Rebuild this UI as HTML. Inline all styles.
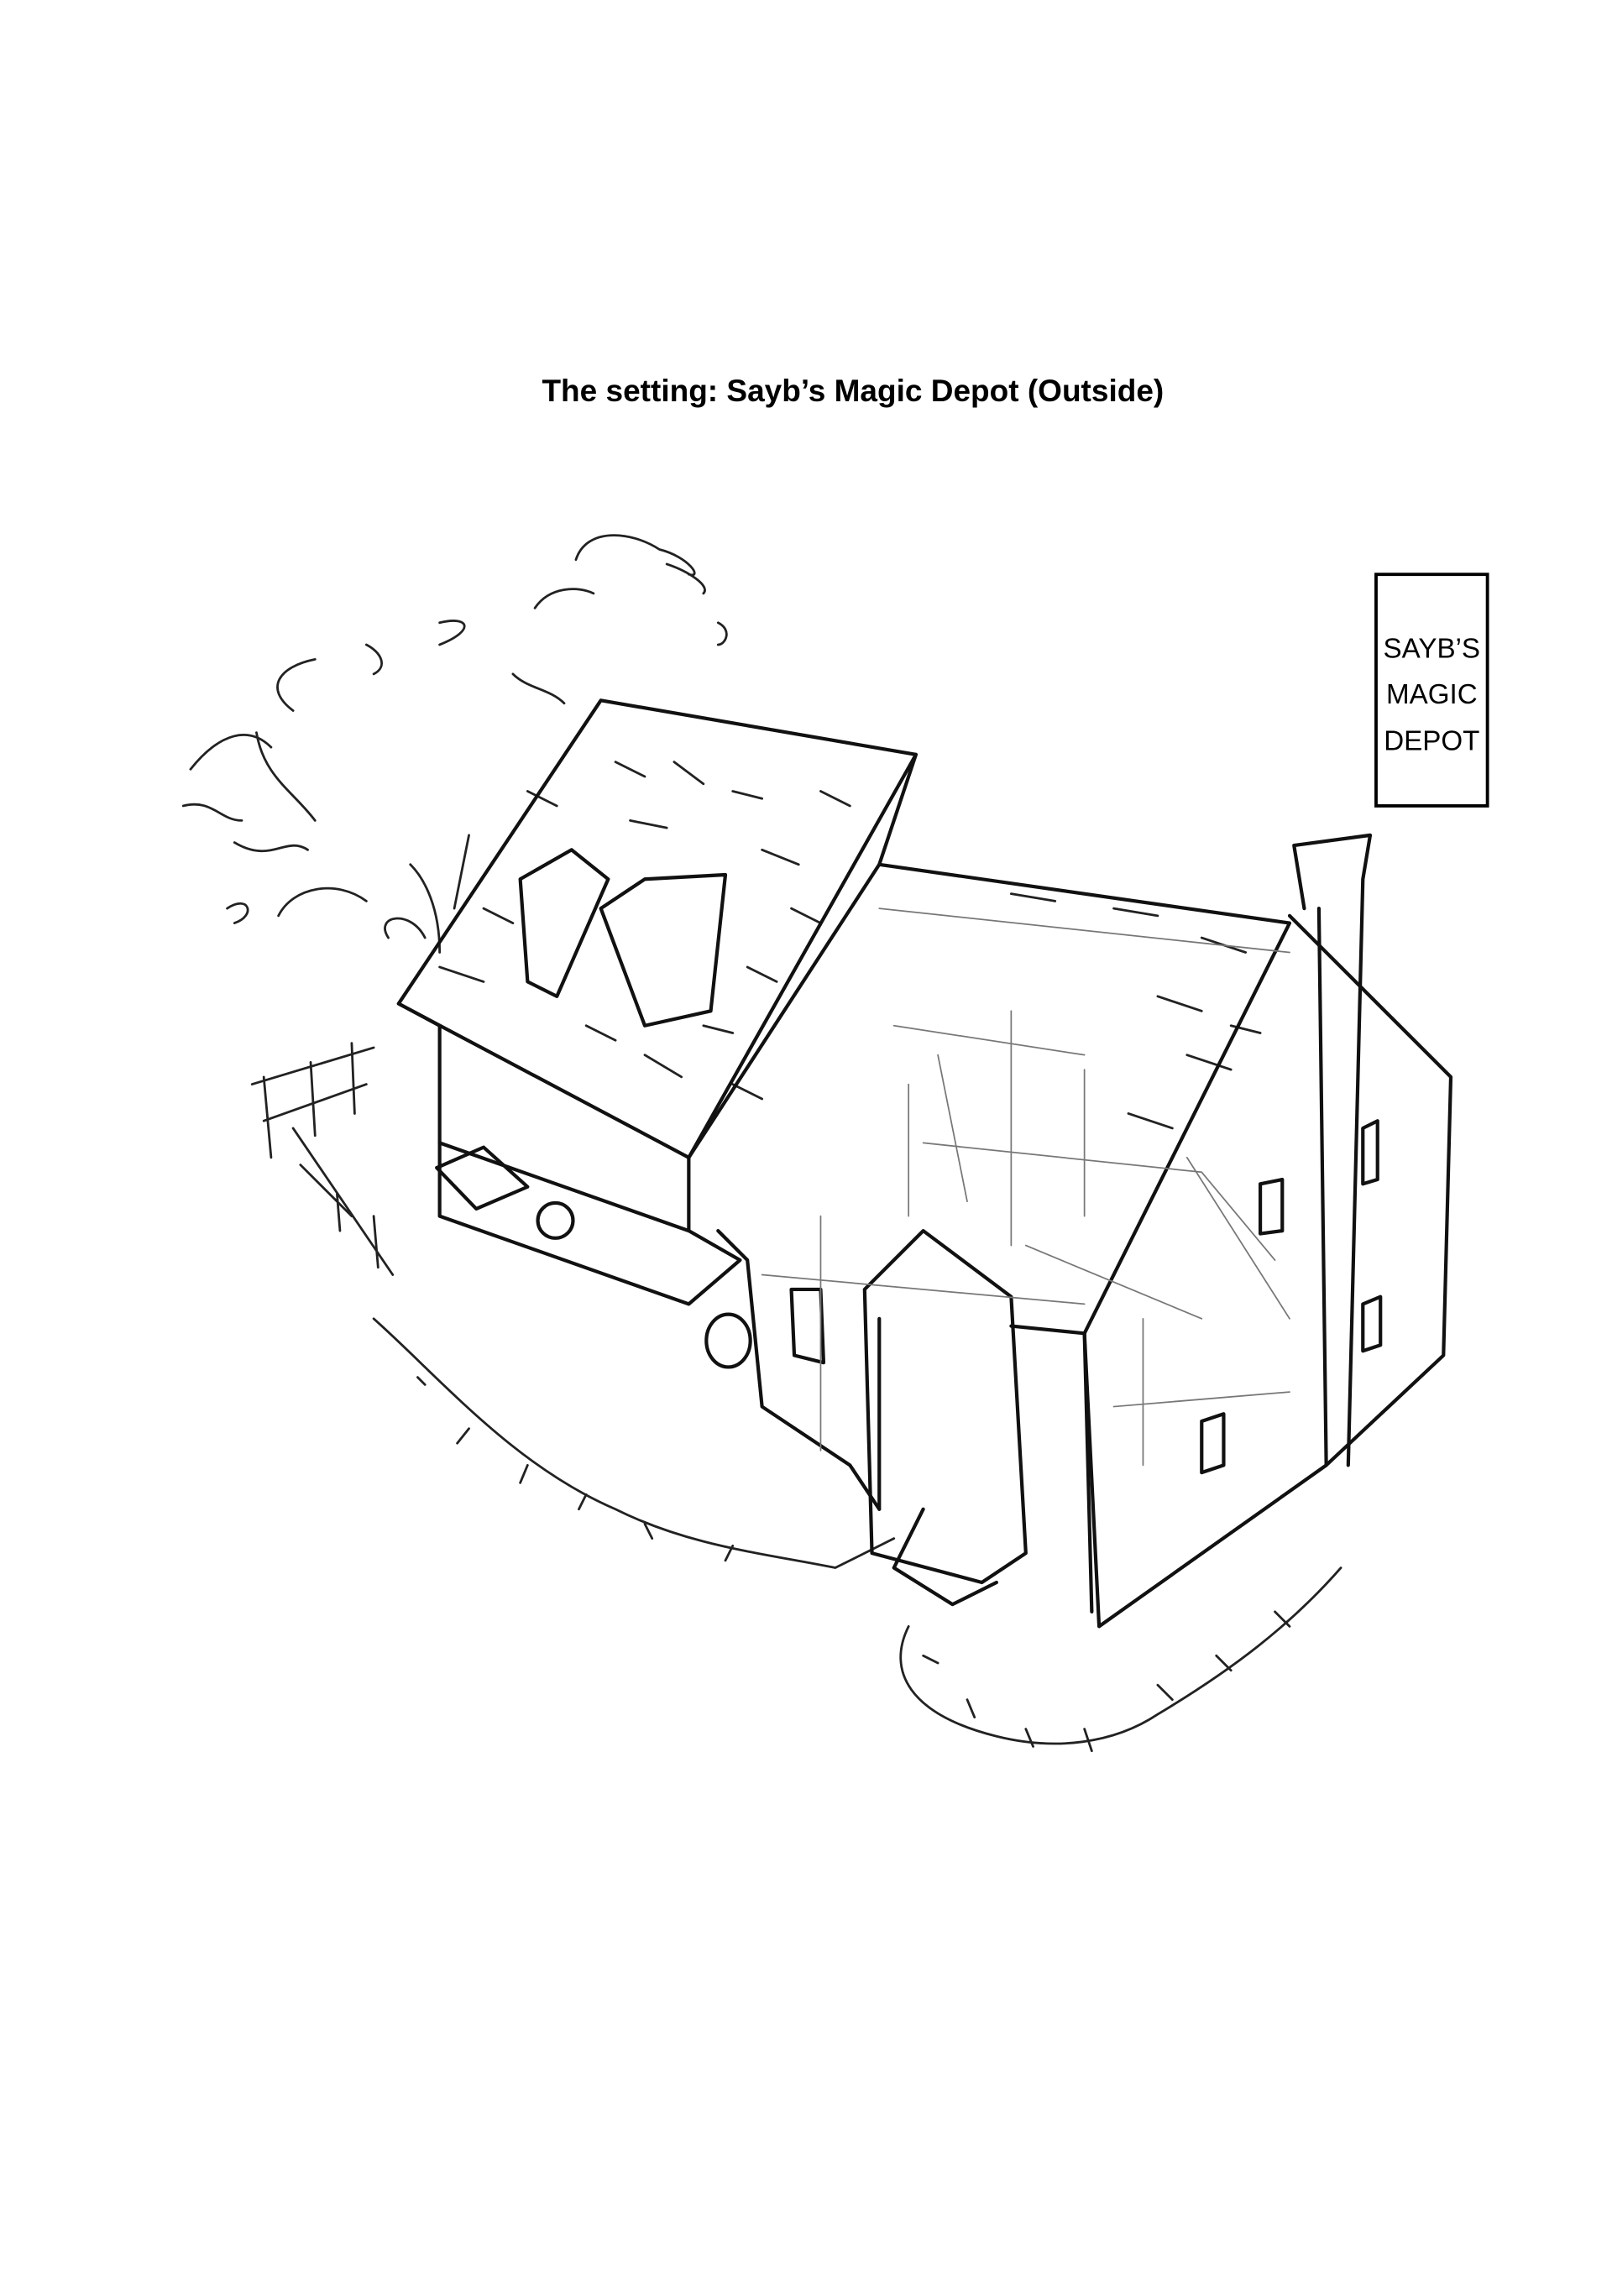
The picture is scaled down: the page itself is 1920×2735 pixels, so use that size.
<!DOCTYPE html>
<html><head><meta charset="utf-8"><style>
html,body{margin:0;padding:0;background:#fff;}
body{width:1920px;height:2735px;overflow:hidden;}
svg{display:block}
</style></head><body>
<svg width="1920" height="2735" viewBox="0 0 1100 1567" preserveAspectRatio="none" xmlns="http://www.w3.org/2000/svg">
<rect width="1100" height="1567" fill="#fff"/>
<text x="582" y="274" font-family="Liberation Sans, sans-serif" font-weight="bold" font-size="21.2" text-anchor="middle" fill="#000">The setting: Sayb’s Magic Depot (Outside)</text>
<rect x="939" y="392" width="76" height="158" fill="#fff" stroke="#000" stroke-width="2.2"/>
<g font-family="Liberation Sans, sans-serif" font-size="19" text-anchor="middle" fill="#000">
<text x="977" y="449">SAYB’S</text><text x="977" y="480">MAGIC</text><text x="977" y="512">DEPOT</text></g>
<g fill="none" stroke="#222" stroke-width="1.6" stroke-linecap="round" stroke-linejoin="round">
<path d="M393,382 C400,360 430,362 450,375 C470,380 480,395 470,392 M455,385 C470,390 485,400 480,405 M490,425 C500,430 495,440 490,440 M365,415 C375,400 395,400 405,405 M215,450 C190,455 180,470 200,485 M300,425 C320,420 325,430 300,440 M250,440 C260,445 265,455 255,460 M350,460 C360,470 375,470 385,480 M130,525 C150,500 170,495 185,510 M125,550 C145,545 150,560 165,560 M160,575 C185,590 195,570 210,580 M155,620 C170,610 175,625 160,630 M190,625 C200,605 230,600 250,615 M265,640 C255,625 280,620 290,640 M175,500 C180,530 200,540 215,560 M280,590 C290,600 300,620 300,650 M320,570 L310,620"/>
<path d="M172,740 L255,715 M180,735 L185,790 M212,725 L215,775 M240,712 L242,760 M180,765 L250,740 M200,770 L268,870 M205,795 L240,830 M230,815 L232,840 M255,830 L258,865"/>
<path d="M255,900 C300,940 350,1000 420,1030 C470,1055 520,1060 570,1070 C590,1060 600,1055 610,1050 M620,1110 C605,1140 620,1170 680,1185 C720,1195 760,1190 790,1170 C840,1140 880,1110 915,1070"/>
<path d="M285,940 L290,945 M320,975 L312,985 M360,1000 L355,1012 M400,1020 L395,1030 M440,1040 L445,1050 M500,1055 L495,1065 M630,1130 L640,1135 M660,1160 L665,1172 M700,1180 L705,1192 M740,1180 L745,1195 M790,1150 L800,1160 M830,1130 L840,1140 M870,1100 L880,1110"/>
<path d="M330,620 L350,630 M300,660 L330,670 M420,520 L440,530 M460,520 L480,535 M500,540 L520,545 M520,580 L545,590 M540,620 L560,630 M510,660 L530,670 M480,700 L500,705 M440,720 L465,735 M400,700 L420,710 M360,540 L380,550 M430,560 L455,565 M560,540 L580,550 M500,740 L520,750 M690,610 L720,615 M760,620 L790,625 M820,640 L850,650 M790,680 L820,690 M810,720 L840,730 M770,760 L800,770 M840,700 L860,705"/>
</g>
<g fill="none" stroke="#111" stroke-width="2.4" stroke-linecap="round" stroke-linejoin="round">
<path d="M272,685 L410,478 L625,515 L470,790 Z"/>
<path d="M272,685 L300,700 L300,780 L470,840 L470,790"/>
<path d="M300,780 L300,830 L470,890 L505,860 L470,840"/>
<path d="M355,600 L390,580 L415,600 L380,680 L360,670 Z M410,620 L440,600 L495,597 L485,690 L440,700 Z"/>
<path d="M625,515 L600,590 L880,630 L740,910"/>
<path d="M470,790 L600,590 M490,840 L510,860 L520,960 L580,1000 L600,1030"/>
<path d="M740,910 L750,1110 L905,1000 L900,620"/>
<path d="M880,625 L990,735 L985,925 L905,1000"/>
<path d="M883,577 L935,570 L930,600 L920,1000 M883,577 L890,620"/>
<path d="M590,880 L630,840 L690,885 L700,1060 L670,1080 L595,1060 L590,880 Z M600,900 L600,1030 M630,1030 L610,1070 L650,1095 L680,1080"/>
<path d="M690,905 L740,910 L745,1100"/>
<circle cx="379" cy="833" r="12"/><ellipse cx="497" cy="915" rx="15" ry="18"/>
<path d="M298,797 L330,783 L360,810 L325,825 Z"/>
<path d="M540,880 L560,880 L562,930 L542,925 Z M930,770 L940,765 L940,805 L930,808 Z M860,808 L875,805 L875,840 L860,842 Z M930,890 L942,885 L942,918 L930,922 Z M820,970 L835,965 L835,1000 L820,1005 Z"/>
</g>
<g fill="none" stroke="#777" stroke-width="1" stroke-linecap="round">
<path d="M600,620 L880,650 M610,700 L740,720 M630,780 L820,800 M520,870 L740,890 M620,740 L620,830 M690,690 L690,850 M740,730 L740,830 M640,720 L660,820 M700,850 L820,900 M560,830 L560,990 M760,960 L880,950 M780,900 L780,1000 M810,790 L880,900 M820,800 L870,860"/>
</g>
</svg>
</body></html>
